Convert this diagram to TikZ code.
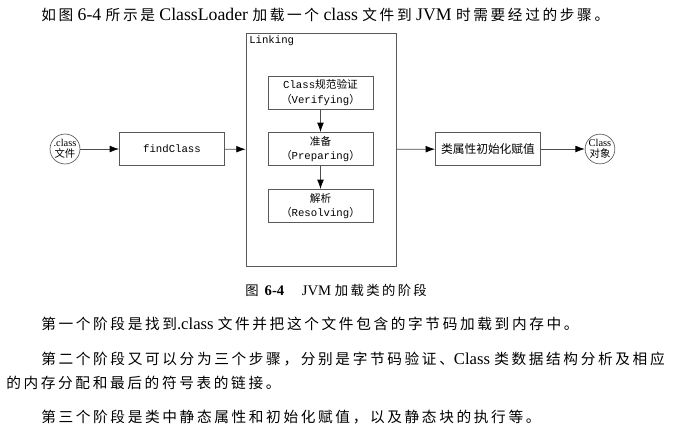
\documentclass[tikz,border=0pt]{standalone}
\usepackage{fontspec}
\setmainfont{Liberation Serif}
\setmonofont{Liberation Mono}
\newfontfamily\cjk{Noto Sans CJK SC}
\newfontfamily\cjkwide[LetterSpace=18]{Noto Sans CJK SC}
\usepackage{tikz}
\usetikzlibrary{arrows.meta}

\newcommand{\zh}[1]{{\cjk #1}}
\newcommand{\zhw}[1]{{\fontsize{11}{14}\cjkwide #1}}

\begin{document}
\begin{tikzpicture}[x=0.75pt, y=-0.75pt,
  every node/.style={inner sep=0pt},
  box/.style={draw=black!65, line width=0.5pt, minimum width=79pt, minimum height=25pt, align=center, font=\ttfamily\fontsize{8}{11}\selectfont},
  blob/.style={circle, draw=black!65, line width=0.5pt, minimum size=21.5pt, align=center, font=\fontsize{7.8}{8.5}\selectfont},
  arr/.style={draw=black!70, line width=0.5pt, -{Latex[length=7pt, width=5pt, color=black]}},
  txt/.style={anchor=west, font=\fontsize{12.5}{14}\selectfont}]
\useasboundingbox (0,0) rectangle (679,436);
% Text
\node[txt, font=\fontsize{13.3}{14}\selectfont] (top) at (41,15) {\zhw{如图} 6-4 \zhw{所示是} ClassLoader \zhw{加载一个} class \zhw{文件到} JVM \zhw{时需要经过的步骤。}};
\node[txt, font=\fontsize{11}{12}\selectfont] (caption) at (245,290) {{\fontsize{10}{12}\cjkwide 图} \textbf{6-4}\hspace{1.2em}JVM {\fontsize{10}{12}\cjkwide 加载类的阶段}};
\node[txt] (para1) at (41,324) {\zhw{第一个阶段是找到}.class \zhw{文件并把这个文件包含的字节码加载到内存中。}};
\node[txt] (para2a) at (41,359) {\zhw{第二个阶段又可以分为三个步骤，分别是字节码验证、}Class \zhw{类数据结构分析及相应}};
\node[txt] (para2b) at (6,383) {\zhw{的内存分配和最后的符号表的链接。}};
\node[txt] (para3) at (41,417) {\zhw{第三个阶段是类中静态属性和初始化赋值，以及静态块的执行等。}};
% Boxes
\node[blob] (cls) at (65,149) {.class\\\zh{文件}};
\node[box] (find) at (172,149) {findClass};
\node[box, minimum width=112.5pt, minimum height=175pt,
  label={[anchor=north west, inner sep=2.5pt, font=\ttfamily\fontsize{8}{10}\selectfont]north west:Linking}] (link) at (321,149.5) {};
\node[box] (verify) at (320.5,92.5) {Class\zh{规范验证}\\\zh{（}Verifying\zh{）}};
\node[box] (prepare) at (320.5,149) {\zh{准备}\\\zh{（}Preparing\zh{）}};
\node[box] (resolve) at (320.5,206) {\zh{解析}\\\zh{（}Resolving\zh{）}};
\node[box, font=\fontsize{8.8}{11}\selectfont] (init) at (488,149) {\zh{类属性初始化赋值}};
\node[blob] (obj) at (600,149) {Class\\\zh{对象}};
% Arrows
\draw[arr] (cls) -- (find);
\draw[arr] (find) -- (link);
\draw[arr] (verify) -- (prepare);
\draw[arr] (prepare) -- (resolve);
\draw[arr] (link) -- (init);
\draw[arr] (init) -- (obj);
\end{tikzpicture}
\end{document}
